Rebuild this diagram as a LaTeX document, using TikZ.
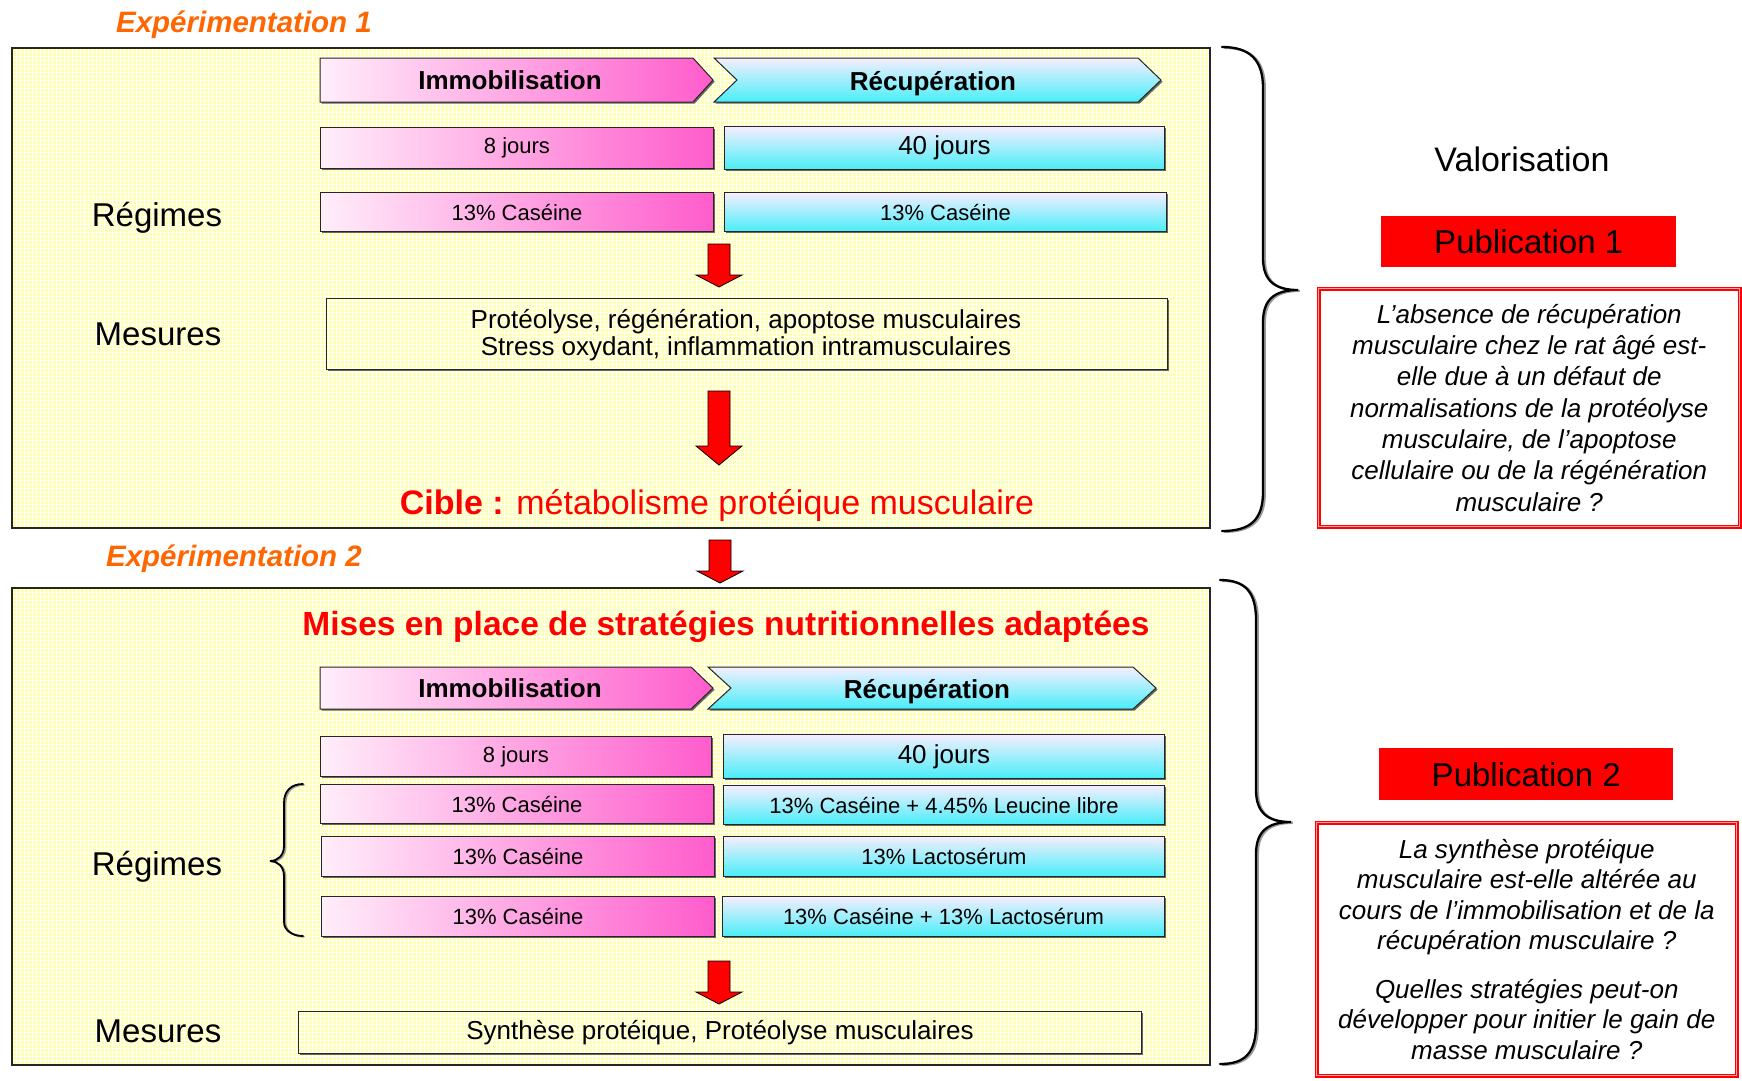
\documentclass[tikz,border=0pt]{standalone}
\usepackage{fontspec}
\setmainfont{Liberation Sans}
\usetikzlibrary{shadows}
\definecolor{ylw}{HTML}{FFFFB0}
\definecolor{pinkL}{HTML}{FFEEFA}
\definecolor{pinkR}{HTML}{FF5CCC}
\definecolor{cyT}{HTML}{F6EEFF}
\definecolor{cyB}{HTML}{48EEF8}
\definecolor{orng}{HTML}{FF6600}
\newcommand\fsz[2]{\fontsize{#1}{#2}\selectfont}
\newcommand\ylwrect[4]{%
  \fill[black!60] ({#1+2},{#2+2}) rectangle ({#3+2},{#4+2});
  \fill[ylw] (#1,#2) rectangle (#3,#4);
  \begin{scope}
    \clip (#1,#2) rectangle (#3,#4);
    \draw[gridln] \foreach \gx in {0,4,...,1240} {(\gx,#2) -- (\gx,#4)};
    \draw[gridln] \foreach \gy in {0,4,...,1080} {(#1,\gy) -- (#3,\gy)};
  \end{scope}}
\newcommand\redarrow[4]{\draw[redarr] ({#1-11},#2) -- ({#1+11},#2) -- ({#1+11},#3) -- ({#1+23},#3) -- (#1,#4) -- ({#1-23},#3) -- ({#1-11},#3) -- cycle;}
\tikzset{
  gridln/.style={white, line width=0.75},
  frameline/.style={draw=black!85, line width=1.8, inner sep=0, anchor=north west},
  shad/.style={drop shadow={shadow xshift=1.6pt, shadow yshift=-1.6pt, fill=black!60, opacity=1}},
  pinkbox/.style={shad, draw=black!85, line width=1, left color=pinkL, right color=pinkR, inner sep=0, anchor=north west, font=\fsz{22}{26}},
  cyanbox/.style={shad, draw=black!85, line width=1, top color=cyT, bottom color=cyB, inner sep=0, anchor=north west, font=\fsz{22}{26}},
  pinkchev/.style={shad, draw=black!85, line width=1, left color=pinkL, right color=pinkR},
  cyanchev/.style={shad, draw=black!85, line width=1, top color=cyT, bottom color=cyB},
  chevlabel/.style={font=\fsz{26}{30}\bfseries, inner sep=0},
  biglabel/.style={font=\fsz{33}{38}, inner sep=0},
  redarr/.style={fill=red, draw=black, line width=0.8, line join=miter},
  exptitle/.style={font=\fsz{29.5}{34}\bfseries\itshape, text=orng, inner sep=0},
  pubbox/.style={fill=red, inner sep=0, anchor=north west, font=\fsz{33}{38}},
  qbox/.style={draw=red, line width=1.5, double=red!35, double distance=1.3, inner sep=0, anchor=north west, align=center, font=\fsz{26}{31.3}\itshape},
  bracesty/.style={line width=2.3, black, line cap=round, preaction={draw, line width=2.3, black!40, transform canvas={xshift=1.8pt, yshift=-0.8pt}}},
  lbracesty/.style={line width=1.8, black, line cap=round, preaction={draw, line width=1.8, black!40, transform canvas={xshift=1.5pt, yshift=-0.8pt}}},
}
\begin{document}
\begin{tikzpicture}[x=1pt,y=-1pt]
\useasboundingbox (0,0) rectangle (1742,1080);
\fill[white] (0,0) rectangle (1742,1080);

% ================= Expérimentation 1 =================
\node[exptitle] (exp1) at (244,25) {Expérimentation 1};
\ylwrect{11}{47}{1209}{527}
\node[frameline, minimum width=1198, minimum height=480] (frA) at (11,47) {};

\path[pinkchev] (320,58) -- (693,58) -- (713,80) -- (693,102) -- (320,102) -- cycle;
\node[chevlabel] (immA) at (510,80) {Immobilisation};
\path[cyanchev] (714,58) -- (1138,58) -- (1161,80) -- (1138,102) -- (714,102) -- (737,80) -- cycle;
\node[chevlabel] (recA) at (933,83.5) {Récupération};

\node[pinkbox, minimum width=393, minimum height=41] (j8A) at (320,127) {8 jours};
\node[cyanbox, minimum width=440, minimum height=43, font=\fsz{26}{30}] (j40A) at (724,126) {40 jours};
\node[pinkbox, minimum width=393, minimum height=39] (casA) at (320,192) {13\% Caséine};
\node[cyanbox, minimum width=442, minimum height=39] (casB) at (724,192) {13\% Caséine};
\node[biglabel] (regA) at (157,217.5) {Régimes};

\redarrow{719}{244}{275}{287}

\node[biglabel] (mesA) at (158,334.5) {Mesures};
\ylwrect{326}{298}{1167}{369}
\node[frameline, line width=1.2, minimum width=841, minimum height=71] (mesBoxA) at (326,298) {};
\node[font=\fsz{26}{27}, align=center, inner sep=0] (mesTxtA) at (746,335) {Protéolyse, régénération, apoptose musculaires\\Stress oxydant, inflammation intramusculaires};

\redarrow{719}{391}{446}{465}

\node[text=red, font=\fsz{34}{40}, inner sep=0] (cible) at (717,505.5) {\textbf{Cible :} métabolisme protéique musculaire};

% ================= between =================
\redarrow{720}{540}{571}{583}
\node[exptitle] (exp2) at (234,559) {Expérimentation 2};

% ================= Expérimentation 2 =================
\ylwrect{11}{587}{1209}{1064}
\node[frameline, minimum width=1198, minimum height=477] (frB) at (11,587) {};

\node[text=red, font=\fsz{33.5}{40}\bfseries, inner sep=0] (mises) at (726,626.5) {Mises en place de stratégies nutritionnelles adaptées};

\path[pinkchev] (320,667) -- (691,667) -- (713,688) -- (691,709) -- (320,709) -- cycle;
\node[chevlabel] (immB) at (510,688) {Immobilisation};
\path[cyanchev] (708,667) -- (1133,667) -- (1156,688) -- (1133,709) -- (708,709) -- (731,688) -- cycle;
\node[chevlabel] (recB) at (927,691.5) {Récupération};

\node[pinkbox, minimum width=391, minimum height=40] (j8B) at (320,736) {8 jours};
\node[cyanbox, minimum width=441, minimum height=44, font=\fsz{26}{30}] (j40B) at (723,734) {40 jours};

\node[pinkbox, minimum width=393, minimum height=39] (r1L) at (320,784) {13\% Caséine};
\node[cyanbox, minimum width=441, minimum height=39] (r1R) at (723,785) {13\% Caséine + 4.45\% Leucine libre};
\node[pinkbox, minimum width=393, minimum height=40] (r2L) at (321,836) {13\% Caséine};
\node[cyanbox, minimum width=441, minimum height=40] (r2R) at (723,836) {13\% Lactosérum};
\node[pinkbox, minimum width=393, minimum height=40] (r3L) at (321,896) {13\% Caséine};
\node[cyanbox, minimum width=442, minimum height=40] (r3R) at (722,896) {13\% Caséine + 13\% Lactosérum};

\draw[lbracesty] (303,784) .. controls (292,784) and (284,790) .. (284,803) -- (284,846) .. controls (284,855) and (278,861) .. (270,861) .. controls (278,861) and (284,867) .. (284,876) -- (284,922) .. controls (284,930) and (292,936) .. (303,936);
\node[biglabel] (regB) at (157,866.5) {Régimes};

\redarrow{719}{961}{992}{1004}

\node[biglabel] (mesB) at (158,1031.5) {Mesures};
\ylwrect{298}{1011}{1141}{1053}
\node[frameline, line width=1.2, minimum width=843, minimum height=42] (synBox) at (298,1011) {};
\node[font=\fsz{26}{30}, inner sep=0] (synTxt) at (720,1033) {Synthèse protéique, Protéolyse musculaires};

% ================= right side =================
\draw[bracesty] (1222,47) .. controls (1250,47) and (1263,60) .. (1263,88) -- (1263,258) .. controls (1263,280) and (1274,290) .. (1298,290) .. controls (1274,290) and (1263,300) .. (1263,322) -- (1263,492) .. controls (1263,520) and (1250,531) .. (1222,531);
\draw[bracesty] (1220,580) .. controls (1246,580) and (1256,593) .. (1256,620) -- (1256,790) .. controls (1256,812) and (1267,822) .. (1291,822) .. controls (1267,822) and (1256,832) .. (1256,854) -- (1256,1024) .. controls (1256,1052) and (1246,1064) .. (1220,1064);

\node[font=\fsz{34}{40}, inner sep=0] (valo) at (1522,159) {Valorisation};
\node[pubbox, minimum width=295, minimum height=51] (pub1) at (1381,216) {Publication 1};
\node[qbox, minimum width=421, minimum height=238] (q1) at (1318,288) {L’absence de récupération\\musculaire chez le rat âgé est-\\elle due à un défaut de\\normalisations de la protéolyse\\musculaire, de l’apoptose\\cellulaire ou de la régénération\\musculaire ?};

\node[pubbox, minimum width=294, minimum height=52] (pub2) at (1379,748) {Publication 2};
\node[qbox, minimum width=420, minimum height=253, font=\fsz{26}{30.4}\itshape] (q2) at (1316,822) {La synthèse protéique\\musculaire est-elle altérée au\\cours de l’immobilisation et de la\\récupération musculaire ?\\[18.6pt]Quelles stratégies peut-on\\développer pour initier le gain de\\masse musculaire ?};
\end{tikzpicture}
\end{document}
